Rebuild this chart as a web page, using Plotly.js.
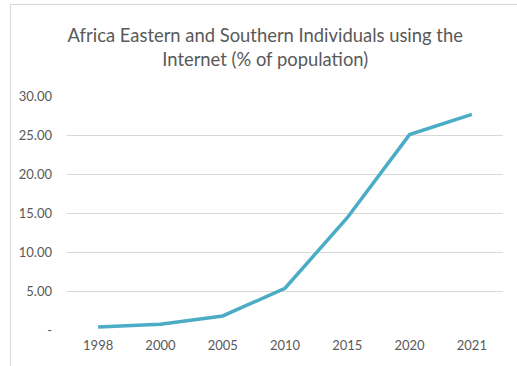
<!DOCTYPE html>
<html>
<head>
<meta charset="utf-8">
<script src="https://cdn.plot.ly/plotly-3.0.1.min.js"></script>
<style>
  html, body { margin: 0; padding: 0; background: #ffffff; }
  #frame { position: absolute; left: 10px; top: 4px; width: 520px; height: 370px;
           border-left: 1px solid #d9d9d9; border-top: 1px solid #d9d9d9; }
  #chart { position: absolute; left: 0; top: 0; width: 517px; height: 366px; }
</style>
</head>
<body>
<div id="frame"></div>
<div id="chart"></div>
<script>
const years = ["1998", "2000", "2005", "2010", "2015", "2020", "2021"];
const internetPct = [0.38, 0.75, 1.8, 5.35, 14.4, 25.05, 27.65];
const yTickVals = [0, 5, 10, 15, 20, 25, 30];
const yTickText = ["-", "5.00", "10.00", "15.00", "20.00", "25.00", "30.00"];
const titleText = "Africa Eastern and Southern Individuals using the<br>Internet (% of population)";

const trace = {
  x: years,
  y: internetPct,
  type: "scatter",
  mode: "lines",
  line: { color: "#4bacc6", width: 3.5 },
  hoverinfo: "x+y"
};

const layout = {
  width: 517,
  height: 366,
  paper_bgcolor: "rgba(0,0,0,0)",
  plot_bgcolor: "rgba(0,0,0,0)",
  margin: { l: 67, r: 14, t: 96, b: 36, pad: 0 },
  showlegend: false,
  font: { family: "Lato, 'Open Sans', sans-serif", color: "#595959", size: 13 },
  title: {
    text: titleText,
    font: { family: "Lato, 'Open Sans', sans-serif", size: 18.4, color: "#595959" },
    x: 0.513, xanchor: "center",
    y: 0.885, yanchor: "top",
    xref: "container", yref: "container"
  },
  xaxis: {
    type: "category",
    range: [-0.5, 6.5],
    showgrid: false,
    showline: false,
    zeroline: false,
    ticks: "",
    tickfont: { size: 13, color: "#595959" },
    ticklabelstandoff: 6
  },
  yaxis: {
    range: [0, 30],
    tickvals: yTickVals,
    ticktext: yTickText,
    showgrid: true,
    gridcolor: "#d9d9d9",
    gridwidth: 1,
    zeroline: false,
    showline: false,
    ticks: "",
    tickfont: { size: 13, color: "#595959" },
    ticklabelstandoff: 14
  }
};

Plotly.newPlot("chart", [trace], layout, { displayModeBar: false, staticPlot: true });
</script>
</body>
</html>
